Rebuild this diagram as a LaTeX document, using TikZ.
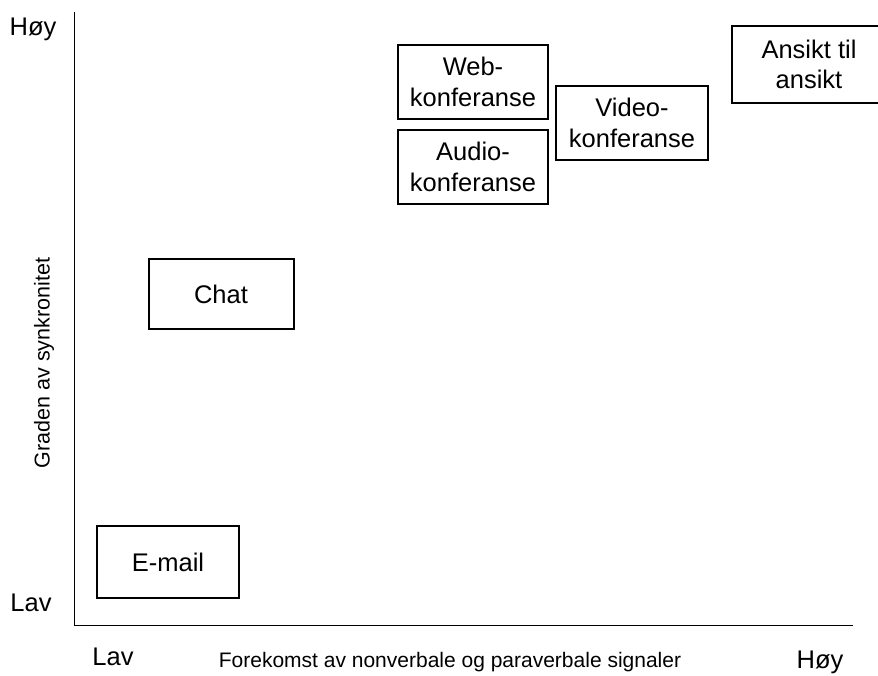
\documentclass[tikz,border=0pt]{standalone}
\usepackage{fontspec}
\setmainfont{Liberation Sans}
\tikzset{
    % Framed box for one form of communication
    medium box/.style={
        draw, line width=2pt, align=center, inner sep=0,
        font=\fontsize{25.5}{30.5}\selectfont},
%
    % Low and high marks at the ends of the axes
    axis end/.style={inner sep=0, font=\fontsize{25.5}{30}\selectfont},
%
    % Titles of the two axes
    axis title/.style={inner sep=0, font=\fontsize{21}{25}\selectfont}}

\begin{document}
\begin{tikzpicture}[x=1pt, y=-1pt]

\useasboundingbox (0,0) rectangle (878,675);

% Axes
\coordinate (y top) at (74,12);
\coordinate (origin) at (74,625);
\coordinate (x end) at (853,625);
\draw [line width=0.9pt] (y top) -- (origin) -- (x end);

\node [axis end] (y high) at (33,29) {Høy};
\node [axis end] (y low) at (31,603) {Lav};
\node [axis end] (x low) at (113,657) {Lav};
\node [axis end] (x high) at (820,662) {Høy};

\node [axis title] (x title) at (450,662)
    {Forekomst av nonverbale og paraverbale signaler};
\node [axis title, rotate=90, font=\fontsize{21.5}{25}\selectfont]
    (y title) at (44,363) {Graden av synkronitet};

% Forms of communication
\node [medium box, minimum width=150, minimum height=74]
    (web) at (473,82) {Web-\\konferanse};
\node [medium box, minimum width=150, minimum height=74]
    (audio) at (473,167) {Audio-\\konferanse};
\node [medium box, minimum width=152, minimum height=74]
    (video) at (632,123) {Video-\\konferanse};
\node [medium box, minimum width=154, minimum height=77]
    (face) at (809,64.5) {Ansikt til\\ansikt};
\node [medium box, minimum width=145, minimum height=70]
    (chat) at (221,294) {Chat};
\node [medium box, minimum width=142, minimum height=72]
    (email) at (168,562) {E-mail};

\end{tikzpicture}
\end{document}
